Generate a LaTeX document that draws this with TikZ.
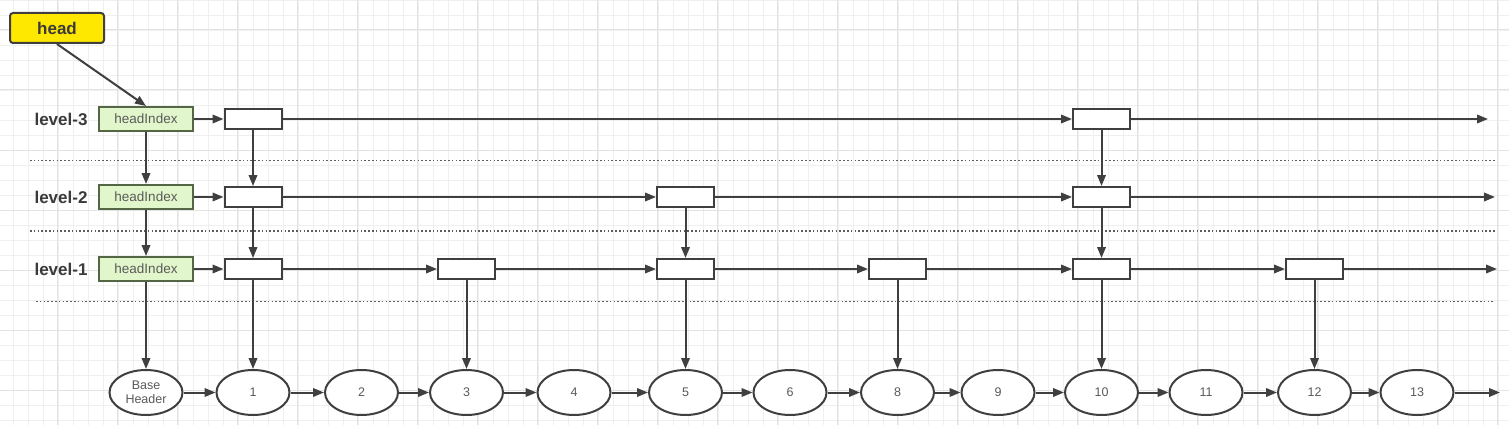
\documentclass[tikz,border=0pt]{standalone}
\usepackage{fontspec}
\setmainfont{Liberation Sans}
\usetikzlibrary{arrows.meta,shapes.geometric}
\definecolor{linec}{HTML}{3F3F3F}
\definecolor{gridmin}{HTML}{EFEFEF}
\definecolor{gridmaj}{HTML}{E3E3E3}
\definecolor{headfill}{HTML}{FFE800}
\definecolor{hidxfill}{HTML}{E2F6CC}
\definecolor{hidxdraw}{HTML}{556644}
\definecolor{txtgrey}{HTML}{5A5A5A}
\definecolor{lvltxt}{HTML}{3A3A3A}
\begin{document}
\begin{tikzpicture}[x=1pt,y=-1pt,
  arr/.style={draw=linec,line width=2pt,-{Triangle[length=11pt,width=8.5pt]}},
  dotline/.style={draw=linec!85,line width=1.8pt,dash pattern=on 1.6pt off 2.2pt},
  headbox/.style={draw=linec,line width=2pt,fill=headfill,rounded corners=3pt,minimum width=94pt,minimum height=30pt,inner sep=0pt,font=\fontsize{17}{20}\selectfont\bfseries,text=lvltxt},
  lvl/.style={font=\fontsize{17}{20}\selectfont\bfseries,text=lvltxt,inner sep=0pt},
  hidx/.style={draw=hidxdraw,line width=2pt,fill=hidxfill,minimum width=94pt,minimum height=24pt,inner sep=0pt,font=\fontsize{13.5}{15}\selectfont,text=txtgrey},
  ibox/.style={draw=linec,line width=2pt,fill=white,minimum width=57pt,minimum height=20pt,inner sep=0pt},
  elnode/.style={draw=linec,line width=2pt,fill=white,ellipse,minimum width=73pt,minimum height=45pt,inner sep=0pt,font=\fontsize{12.5}{14}\selectfont,text=txtgrey,align=center}
]
\useasboundingbox (0,0) rectangle (1509,425);
\fill[white] (0,0) rectangle (1509,425);
% grid
\foreach \i in {0,...,100} {\draw[gridmin,line width=0.9pt] ({13+15*\i},0) -- ++(0,425);}
\foreach \i in {0,...,28} {\draw[gridmin,line width=0.9pt] (0,{15*\i}) -- ++(1509,0);}
\foreach \i in {-1,...,24} {\draw[gridmaj,line width=1pt] ({57+60*\i},0) -- ++(0,425);}
\foreach \i in {0,...,6} {\draw[gridmaj,line width=1pt] (0,{30+60*\i}) -- ++(1509,0);}

% dotted separators
\coordinate (d1a) at (30,160.5); \coordinate (d1b) at (1495,160.5);
\coordinate (d2a) at (30,231); \coordinate (d2b) at (1495,231);
\coordinate (d3a) at (36,301.5); \coordinate (d3b) at (1493,301.5);
\draw[dotline] (d1a) -- (d1b);
\draw[dotline] (d2a) -- (d2b);
\draw[dotline] (d3a) -- (d3b);

% head
\node[headbox] (head) at (57,28) {head};

% level labels
\node[lvl] (l3) at (61,119) {level-3};
\node[lvl] (l2) at (61,197) {level-2};
\node[lvl] (l1) at (61,269) {level-1};

% head indexes
\node[hidx] (h3) at (146,119) {headIndex};
\node[hidx] (h2) at (146,197) {headIndex};
\node[hidx] (h1) at (146,269) {headIndex};

% index boxes
\node[ibox] (a1) at (253,119) {};
\node[ibox] (a10) at (1101.5,119) {};
\node[ibox] (b1) at (253,197) {};
\node[ibox] (b5) at (685.5,197) {};
\node[ibox] (b10) at (1101.5,197) {};
\node[ibox] (c1) at (253,269) {};
\node[ibox] (c3) at (466.5,269) {};
\node[ibox] (c5) at (685.5,269) {};
\node[ibox] (c8) at (897.5,269) {};
\node[ibox] (c10) at (1101.5,269) {};
\node[ibox] (c12) at (1314.5,269) {};

% base list
\node[elnode] (e0) at (146,392.5) {Base\\Header};
\node[elnode] (e1) at (253,392.5) {1};
\node[elnode] (e2) at (361.5,392.5) {2};
\node[elnode] (e3) at (466.5,392.5) {3};
\node[elnode] (e4) at (574,392.5) {4};
\node[elnode] (e5) at (685.5,392.5) {5};
\node[elnode] (e6) at (790,392.5) {6};
\node[elnode] (e8) at (897.5,392.5) {8};
\node[elnode] (e9) at (998,392.5) {9};
\node[elnode] (e10) at (1101.5,392.5) {10};
\node[elnode] (e11) at (1206,392.5) {11};
\node[elnode] (e12) at (1314.5,392.5) {12};
\node[elnode] (e13) at (1417,392.5) {13};

\coordinate (end3) at (1488,119);
\coordinate (end2) at (1495,197);
\coordinate (end1) at (1497,269);
\coordinate (end0) at (1500,392.5);

% head pointer
\draw[arr] (head.south) -- (h3.north);

% horizontal links
\draw[arr] (h3) -- (a1);
\draw[arr] (a1) -- (a10);
\draw[arr] (a10) -- (end3);
\draw[arr] (h2) -- (b1);
\draw[arr] (b1) -- (b5);
\draw[arr] (b5) -- (b10);
\draw[arr] (b10) -- (end2);
\draw[arr] (h1) -- (c1);
\draw[arr] (c1) -- (c3);
\draw[arr] (c3) -- (c5);
\draw[arr] (c5) -- (c8);
\draw[arr] (c8) -- (c10);
\draw[arr] (c10) -- (c12);
\draw[arr] (c12) -- (end1);
\foreach \a/\b in {e0/e1,e1/e2,e2/e3,e3/e4,e4/e5,e5/e6,e6/e8,e8/e9,e9/e10,e10/e11,e11/e12,e12/e13}
  {\draw[arr] (\a) -- (\b);}
\draw[arr] (e13) -- (end0);

% vertical links
\draw[arr] (h3) -- (h2);
\draw[arr] (h2) -- (h1);
\draw[arr] (h1) -- (e0);
\draw[arr] (a1) -- (b1);
\draw[arr] (b1) -- (c1);
\draw[arr] (c1) -- (e1);
\draw[arr] (a10) -- (b10);
\draw[arr] (b10) -- (c10);
\draw[arr] (c10) -- (e10);
\draw[arr] (b5) -- (c5);
\draw[arr] (c5) -- (e5);
\draw[arr] (c3) -- (e3);
\draw[arr] (c8) -- (e8);
\draw[arr] (c12) -- (e12);
\end{tikzpicture}
\end{document}
